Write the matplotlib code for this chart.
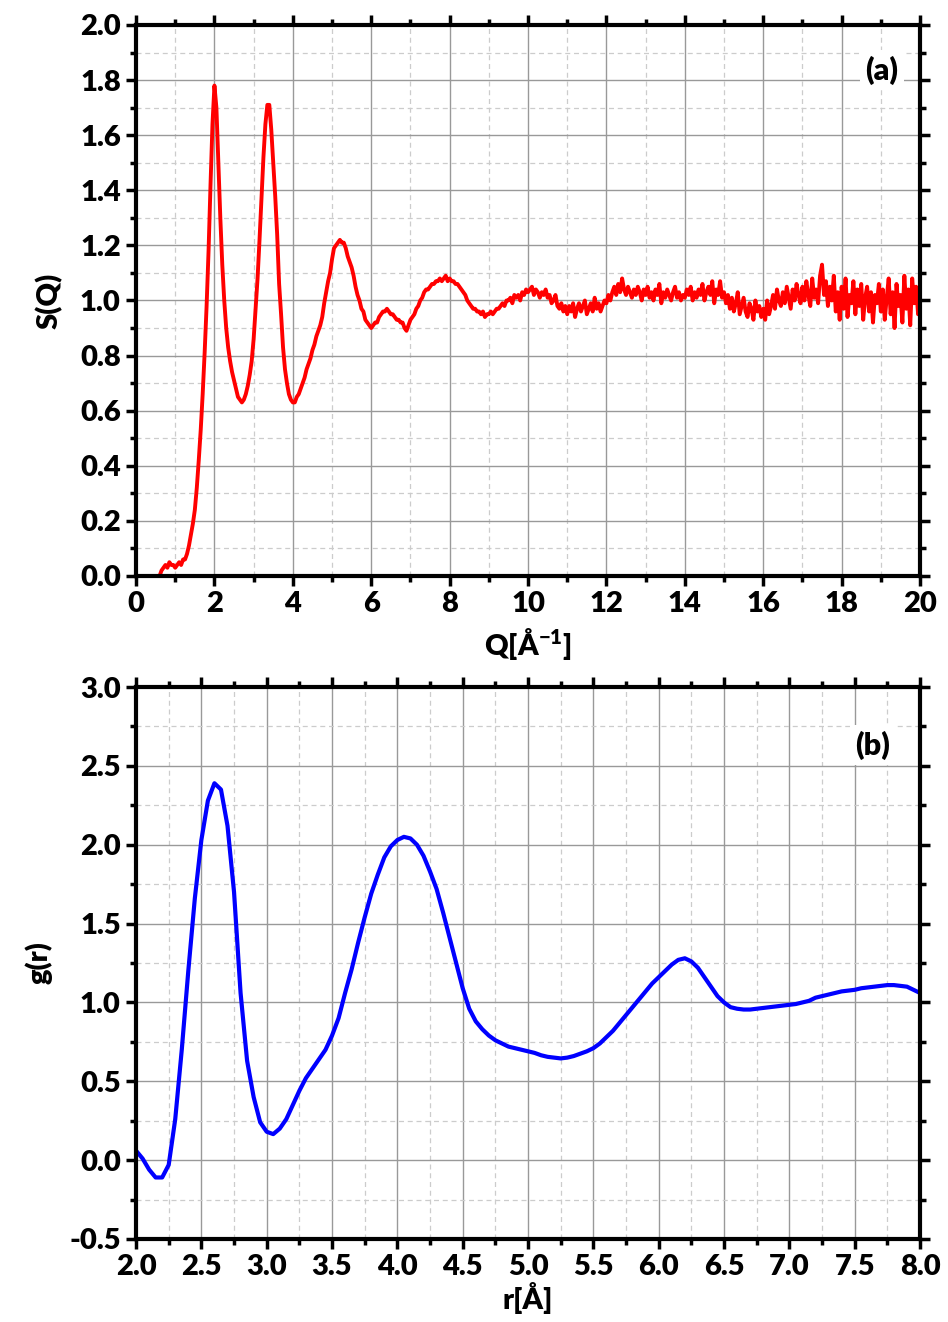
import matplotlib.pyplot as plt
import numpy as np
from matplotlib.ticker import MultipleLocator

plt.rcParams['font.family'] = ['Lato', 'DejaVu Sans']
plt.rcParams['font.weight'] = 'heavy'
plt.rcParams['mathtext.default'] = 'regular'
plt.rcParams['axes.unicode_minus'] = False

# S(Q), sampled every 0.05 A^-1 starting at 0.6 (first row) then one row per unit of Q
q_start = 0.6
q_step = 0.05
sq_rows = [
    [0.00, 0.02, 0.03, 0.04, 0.03, 0.05, 0.04, 0.04],
    [0.03, 0.04, 0.05, 0.04, 0.06, 0.06, 0.08, 0.11, 0.15, 0.19,
     0.24, 0.32, 0.42, 0.53, 0.66, 0.81, 0.98, 1.18, 1.42, 1.64],
    [1.78, 1.70, 1.50, 1.30, 1.13, 1.00, 0.90, 0.83, 0.78, 0.74,
     0.71, 0.68, 0.65, 0.64, 0.63, 0.64, 0.66, 0.69, 0.73, 0.78],
    [0.86, 0.97, 1.08, 1.22, 1.37, 1.52, 1.64, 1.71, 1.71, 1.62,
     1.50, 1.38, 1.24, 1.06, 0.95, 0.83, 0.75, 0.70, 0.66, 0.64],
    [0.63, 0.63, 0.65, 0.66, 0.68, 0.70, 0.72, 0.75, 0.77, 0.79,
     0.82, 0.84, 0.87, 0.89, 0.91, 0.94, 0.99, 1.03, 1.07, 1.10],
    [1.15, 1.19, 1.20, 1.21, 1.22, 1.21, 1.21, 1.19, 1.16, 1.14,
     1.12, 1.09, 1.05, 1.02, 1.00, 0.97, 0.96, 0.93, 0.92, 0.91],
    [0.90, 0.91, 0.92, 0.92, 0.94, 0.95, 0.96, 0.96, 0.97, 0.96,
     0.95, 0.95, 0.94, 0.93, 0.93, 0.92, 0.92, 0.90, 0.89, 0.91],
    [0.93, 0.94, 0.95, 0.97, 0.98, 1.00, 1.01, 1.03, 1.04, 1.04,
     1.05, 1.06, 1.06, 1.07, 1.07, 1.08, 1.07, 1.08, 1.09, 1.07],
    [1.08, 1.07, 1.07, 1.06, 1.06, 1.05, 1.04, 1.03, 1.02, 1.00,
     0.99, 0.98, 0.97, 0.97, 0.96, 0.96, 0.95, 0.96, 0.94, 0.95],
    [0.95, 0.96, 0.95, 0.96, 0.97, 0.97, 0.98, 0.99, 0.98, 1.00,
     1.00, 1.01, 0.99, 1.02, 1.01, 1.02, 1.00, 1.03, 1.02, 1.04],
    [1.03, 1.04, 1.05, 1.02, 1.04, 1.03, 1.01, 1.03, 1.02, 1.04,
     1.01, 1.02, 0.99, 1.00, 1.02, 0.98, 0.97, 0.99, 0.96, 0.98],
    [0.95, 0.98, 0.96, 0.99, 0.94, 0.97, 0.99, 0.96, 0.98, 1.00,
     0.95, 0.97, 0.99, 0.96, 1.01, 0.97, 0.99, 0.96, 0.98, 1.00],
    [0.99, 1.02, 1.00, 1.03, 1.05, 1.02, 1.06, 1.03, 1.08, 1.04,
     1.02, 1.05, 1.03, 1.01, 1.04, 1.02, 1.05, 1.03, 1.00, 1.04],
    [1.02, 1.05, 1.01, 1.03, 1.00, 1.04, 1.02, 1.06, 0.99, 1.03,
     1.01, 1.04, 1.02, 1.00, 1.03, 1.05, 1.01, 1.03, 1.00, 1.02],
    [1.01, 1.04, 1.02, 1.05, 1.00, 1.03, 1.01, 1.04, 1.02, 1.06,
     1.00, 1.03, 1.05, 1.02, 1.07, 0.99, 1.04, 1.02, 1.07, 1.01],
    [1.03, 0.99, 1.02, 0.97, 1.01, 0.96, 0.99, 1.03, 0.95, 0.98,
     1.01, 0.96, 0.94, 0.99, 0.97, 0.93, 1.00, 0.96, 0.98, 0.94],
    [0.97, 0.93, 1.00, 0.95, 0.98, 1.02, 0.97, 1.04, 1.00, 0.98,
     1.03, 0.99, 1.05, 1.01, 0.97, 1.04, 1.00, 1.06, 1.02, 0.99],
    [1.05, 1.00, 1.07, 1.02, 0.98, 1.08, 1.01, 1.04, 0.99, 1.09,
     1.13, 1.02, 1.07, 0.98, 1.05, 1.00, 1.09, 0.96, 1.03, 0.93],
    [1.05, 0.97, 1.08, 0.94, 1.02, 0.99, 1.07, 0.95, 1.04, 0.98,
     1.06, 0.93, 1.01, 1.05, 0.96, 1.03, 0.92, 1.02, 0.99, 1.06],
    [0.96, 1.04, 0.93, 1.01, 1.08, 0.95, 1.03, 0.90, 1.06, 0.98,
     1.02, 0.92, 1.09, 0.97, 1.04, 0.91, 1.08, 0.99, 1.05, 0.95],
    [1.02],
]

# g(r), sampled every 0.05 A starting at 2.0, one row per 0.5 A
r_start = 2.0
r_step = 0.05
gr_rows = [
    [0.06, 0.01, -0.06, -0.11, -0.11, -0.03, 0.26, 0.70, 1.20, 1.66],
    [2.03, 2.28, 2.39, 2.35, 2.12, 1.70, 1.06, 0.63, 0.40, 0.24],
    [0.18, 0.165, 0.20, 0.26, 0.35, 0.44, 0.52, 0.58, 0.64, 0.70],
    [0.79, 0.90, 1.06, 1.21, 1.38, 1.54, 1.69, 1.81, 1.92, 1.99],
    [2.03, 2.05, 2.04, 2.00, 1.93, 1.83, 1.72, 1.57, 1.41, 1.25],
    [1.09, 0.96, 0.88, 0.83, 0.79, 0.76, 0.74, 0.72, 0.71, 0.70],
    [0.69, 0.68, 0.665, 0.655, 0.65, 0.645, 0.65, 0.66, 0.675, 0.69],
    [0.71, 0.74, 0.78, 0.82, 0.87, 0.92, 0.97, 1.02, 1.07, 1.12],
    [1.16, 1.20, 1.24, 1.27, 1.28, 1.26, 1.22, 1.16, 1.10, 1.04],
    [1.00, 0.97, 0.96, 0.955, 0.955, 0.96, 0.965, 0.97, 0.975, 0.98],
    [0.985, 0.99, 1.00, 1.01, 1.03, 1.04, 1.05, 1.06, 1.07, 1.075],
    [1.08, 1.09, 1.095, 1.10, 1.105, 1.11, 1.11, 1.105, 1.10, 1.08],
    [1.06],
]

sq = np.concatenate(sq_rows)
q = q_start + q_step * np.arange(len(sq))
gr = np.concatenate(gr_rows)
r = r_start + r_step * np.arange(len(gr))


def style_axes(ax, xmaj, xmin, ymaj, ymin):
    ax.xaxis.set_major_locator(MultipleLocator(xmaj))
    ax.xaxis.set_minor_locator(MultipleLocator(xmin))
    ax.yaxis.set_major_locator(MultipleLocator(ymaj))
    ax.yaxis.set_minor_locator(MultipleLocator(ymin))
    ax.grid(which='major', color='#999999', lw=1.0, ls='-')
    ax.grid(which='minor', color='#cccccc', lw=0.9, ls=(0, (4, 3)))
    ax.set_axisbelow(True)
    for s in ax.spines.values():
        s.set_linewidth(3)
    ax.tick_params(which='major', direction='out', length=7, width=2.5,
                   labelsize=21, pad=4)
    ax.tick_params(which='minor', direction='out', length=4, width=2.5)
    ax.tick_params(which='both', top=True, right=True)
    for lab in ax.get_xticklabels() + ax.get_yticklabels():
        lab.set_fontweight('heavy')


fig = plt.figure(figsize=(9.48, 13.22), dpi=100)

ax1 = fig.add_axes([0.1435, 0.5643, 0.827, 0.4168])
ax1.plot(q, sq, color='#ff0000', lw=2.8)
ax1.set_xlim(0, 20)
ax1.set_ylim(0, 2.0)
style_axes(ax1, 2, 1, 0.2, 0.1)
ax1.yaxis.set_major_formatter('{x:.1f}')
ax1.set_xlabel(r'Q[Å$^{-1}$]', fontsize=21, fontweight='heavy', labelpad=6)
ax1.set_ylabel('S(Q)', fontsize=21, fontweight='heavy', labelpad=12)
ax1.text(0.951, 0.918, '(a)', transform=ax1.transAxes, ha='center',
         va='center', fontsize=22, fontweight='heavy',
         bbox=dict(facecolor='white', edgecolor='none', pad=4))

ax2 = fig.add_axes([0.1435, 0.0628, 0.827, 0.4175])
ax2.plot(r, gr, color='#0000ff', lw=3)
ax2.set_xlim(2.0, 8.0)
ax2.set_ylim(-0.5, 3.0)
style_axes(ax2, 0.5, 0.25, 0.5, 0.25)
ax2.xaxis.set_major_formatter('{x:.1f}')
ax2.yaxis.set_major_formatter('{x:.1f}')
ax2.set_xlabel('r[Å]', fontsize=21, fontweight='heavy', labelpad=1)
ax2.set_ylabel('g(r)', fontsize=21, fontweight='heavy', labelpad=12)
ax2.text(0.94, 0.895, '(b)', transform=ax2.transAxes, ha='center',
         va='center', fontsize=22, fontweight='heavy',
         bbox=dict(facecolor='white', edgecolor='none', pad=4))

fig.savefig('out.png', dpi=100)
